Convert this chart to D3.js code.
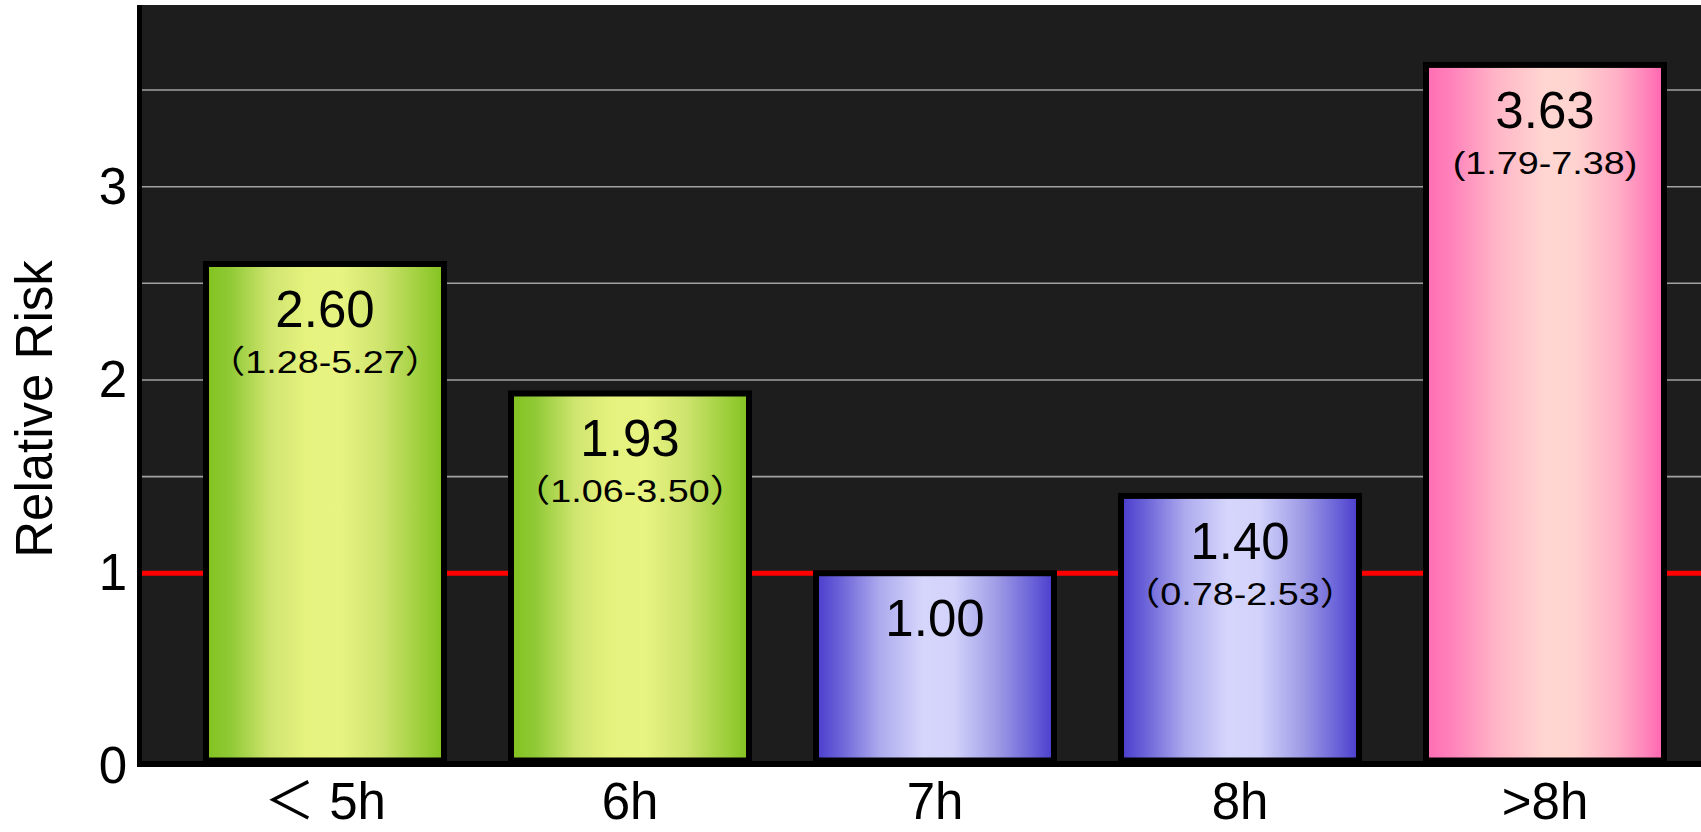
<!DOCTYPE html>
<html>
<head>
<meta charset="utf-8">
<script src="https://cdn.jsdelivr.net/npm/d3@7"></script>
<style>
  html, body { margin: 0; padding: 0; background: #ffffff; }
  svg { display: block; }
  text { font-family: "Liberation Sans", Arial, "Noto Sans CJK JP", sans-serif; }
</style>
</head>
<body>
<svg id="chart" width="1701" height="832"></svg>
<script>
// Sleep duration groups and their relative risk (95% CI)
const categories = ["＜ 5h", "6h", "7h", "8h", ">8h"];
const relativeRisk = [2.60, 1.93, 1.00, 1.40, 3.63];
const ciLabels = ["（1.28-5.27）", "（1.06-3.50）", "", "（0.78-2.53）", "(1.79-7.38)"];
const barGroups = ["short", "short", "reference", "reference", "long"];
const yTickValues = [0, 1, 2, 3];
const gridValues = [1.5, 2, 2.5, 3, 3.5];
const referenceLevel = 1;
const yTitle = "Relative Risk";

const width = 1701, height = 832;
const plot = { left: 137, right: 1701, top: 5, bottom: 766.5 };
const axisW = 5, baseW = 6, barStroke = 6;

const svg = d3.select("#chart");
const defs = svg.append("defs");

// horizontal "cylinder" shading for each bar family
const gradients = {
  short: [[0, "#82c21f"], [0.1, "#8fc935"], [0.27, "#cfe56f"], [0.42, "#e6f27e"], [0.56, "#e8f481"], [0.74, "#cde36c"], [0.9, "#9fcf3d"], [1, "#82c21f"]],
  reference: [[0, "#4a3ccd"], [0.1, "#6a62d8"], [0.27, "#aeabee"], [0.45, "#d6d6fc"], [0.58, "#d2d2fb"], [0.76, "#9f9ce6"], [0.9, "#6d66d9"], [1, "#4a3ccd"]],
  long: [[0, "#ff6db3"], [0.1, "#ff80ba"], [0.3, "#ffb6c7"], [0.5, "#ffd6d1"], [0.62, "#ffd4d0"], [0.8, "#ffb1c6"], [0.92, "#ff86bb"], [1, "#ff63b0"]]
};
Object.entries(gradients).forEach(([key, stops]) => {
  const g = defs.append("linearGradient").attr("id", "grad-" + key)
    .attr("x1", "0%").attr("x2", "100%").attr("y1", "0%").attr("y2", "0%");
  stops.forEach(([o, c]) => g.append("stop").attr("offset", o).attr("stop-color", c));
});

const x = d3.scaleBand()
  .domain(categories)
  .range([203, 1667])
  .paddingInner(0.2)
  .paddingOuter(0);

const y = d3.scaleLinear()
  .domain([0, 3.94])
  .range([plot.bottom, plot.top]);

// plot background
svg.append("rect")
  .attr("x", plot.left).attr("y", plot.top)
  .attr("width", plot.right - plot.left).attr("height", plot.bottom - plot.top)
  .attr("fill", "#1d1d1d");

// gridlines
svg.append("g").selectAll("line").data(gridValues).join("line")
  .attr("x1", plot.left + axisW).attr("x2", plot.right)
  .attr("y1", d => y(d)).attr("y2", d => y(d))
  .attr("stroke", "#a2a2a2").attr("stroke-width", 1.6);

// reference line at RR = 1
svg.append("line")
  .attr("x1", plot.left + axisW).attr("x2", plot.right)
  .attr("y1", y(referenceLevel)).attr("y2", y(referenceLevel))
  .attr("stroke", "#ff0000").attr("stroke-width", 5);

const data = categories.map((c, i) => ({
  cat: c, value: relativeRisk[i], ci: ciLabels[i], group: barGroups[i]
}));
const fmt = d3.format(".2f");

// bars
svg.append("g").selectAll("rect").data(data).join("rect")
  .attr("x", d => x(d.cat) + barStroke / 2)
  .attr("width", x.bandwidth() - barStroke)
  .attr("y", d => y(d.value))
  .attr("height", d => (y(0) - barStroke) - y(d.value))
  .attr("fill", d => "url(#grad-" + d.group + ")")
  .attr("stroke", "#000").attr("stroke-width", barStroke);

// value labels
const labels = svg.append("g");
labels.selectAll("text.val").data(data).join("text")
  .attr("class", "val")
  .attr("x", d => x(d.cat) + x.bandwidth() / 2)
  .attr("y", d => y(d.value) + 63)
  .attr("text-anchor", "middle")
  .attr("font-size", 51)
  .attr("fill", "#000")
  .text(d => fmt(d.value));

// confidence interval labels
labels.selectAll("text.ci").data(data.filter(d => d.ci)).join("text")
  .attr("class", "ci")
  .attr("transform", d => `translate(${x(d.cat) + x.bandwidth() / 2},${y(d.value) + 109}) scale(1.18,1)`)
  .attr("text-anchor", "middle")
  .attr("font-size", 32)
  .attr("fill", "#000")
  .text(d => d.ci);

// axis lines
svg.append("rect")
  .attr("x", plot.left).attr("y", plot.top)
  .attr("width", axisW).attr("height", plot.bottom - plot.top + 0.5)
  .attr("fill", "#000");
svg.append("rect")
  .attr("x", plot.left).attr("y", y(0) - baseW + 0.5)
  .attr("width", plot.right - plot.left).attr("height", baseW)
  .attr("fill", "#000");

// y axis tick labels
const yAxis = svg.append("g")
  .attr("transform", `translate(${plot.left},0)`)
  .call(d3.axisLeft(y).tickValues(yTickValues).tickFormat(d3.format("d")).tickSize(0).tickPadding(10));
yAxis.select(".domain").remove();
yAxis.selectAll("text").attr("font-size", 51).attr("fill", "#000")
  .style("font-family", "'Liberation Sans', Arial, sans-serif");

// x axis category labels
const xAxis = svg.append("g")
  .attr("transform", `translate(0,${plot.bottom})`)
  .call(d3.axisBottom(x).tickSize(0).tickPadding(16));
xAxis.select(".domain").remove();
xAxis.selectAll("text").attr("font-size", 51).attr("fill", "#000")
  .style("font-family", "'Liberation Sans', Arial, 'Noto Sans CJK JP', sans-serif");

// y axis title
svg.append("text")
  .attr("transform", "translate(52,409) rotate(-90)")
  .attr("text-anchor", "middle")
  .attr("font-size", 51)
  .attr("fill", "#000")
  .text(yTitle);
</script>
</body>
</html>
